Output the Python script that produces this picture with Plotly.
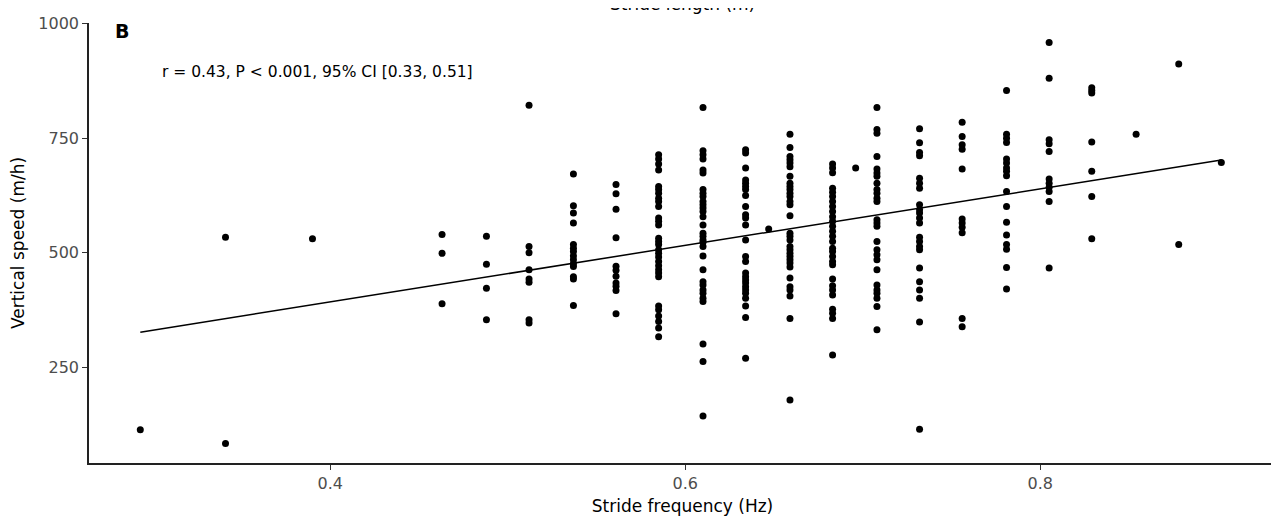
import numpy as np
import plotly.graph_objects as go

# Stride frequency columns (Hz) and vertical speed values (m/h)
freq_cols = [0.293, 0.341, 0.390, 0.463, 0.488, 0.512, 0.537, 0.561, 0.585, 0.610,
             0.634, 0.647, 0.659, 0.683, 0.696, 0.708, 0.732, 0.756, 0.781, 0.805,
             0.829, 0.854, 0.878, 0.902]

speed_0293 = [114]
speed_0341 = [534, 84]
speed_0390 = [531]
speed_0463 = [540, 499, 389]
speed_0488 = [536, 475, 423, 354]
speed_0512 = [822, 514, 500, 463, 443, 436, 354, 347]
speed_0537 = [672, 603, 587, 565, 518, 510, 503, 493, 485, 476, 470, 448, 443, 385]
speed_0561 = [649, 629, 595, 533, 471, 462, 449, 434, 427, 418, 367]
speed_0585 = [714, 705, 694, 681, 645, 638, 630, 619, 612, 601, 576, 569, 561, 532,
              525, 518, 507, 499, 491, 481, 472, 463, 456, 448, 384, 376, 362, 350,
              336, 317]
speed_0610 = [817, 723, 714, 705, 681, 674, 638, 630, 623, 612, 605, 598, 590, 579,
              561, 543, 536, 528, 523, 514, 493, 463, 437, 430, 419, 412, 401, 394,
              301, 263, 144]
speed_0634 = [725, 718, 685, 659, 652, 645, 638, 625, 601, 583, 576, 561, 528, 492,
              481, 456, 448, 441, 434, 426, 419, 412, 401, 384, 359, 270]
speed_0647 = [552]
speed_0659 = [759, 730, 710, 703, 696, 688, 667, 652, 645, 638, 630, 623, 612, 605,
              581, 543, 536, 528, 514, 507, 499, 492, 485, 478, 469, 445, 426, 419,
              406, 357, 179]
speed_0683 = [694, 685, 675, 641, 632, 623, 612, 601, 590, 579, 569, 558, 547, 536,
              525, 510, 503, 492, 481, 474, 443, 428, 419, 408, 377, 368, 357, 277]
speed_0696 = [685]
speed_0708 = [817, 769, 761, 710, 683, 674, 667, 652, 638, 630, 619, 612, 572, 565,
              558, 525, 507, 496, 485, 463, 430, 419, 412, 401, 383, 332]
speed_0732 = [771, 740, 719, 712, 663, 652, 641, 605, 594, 587, 576, 565, 534, 525,
              514, 507, 467, 437, 419, 401, 349, 115]
speed_0756 = [785, 754, 736, 726, 683, 574, 565, 556, 544, 357, 339]
speed_0781 = [854, 759, 750, 741, 705, 696, 685, 678, 668, 634, 601, 567, 539, 518,
              508, 468, 421]
speed_0805 = [959, 881, 747, 738, 721, 661, 652, 643, 634, 612, 467]
speed_0829 = [860, 854, 849, 742, 678, 623, 531]
speed_0854 = [759]
speed_0878 = [912, 518]
speed_0902 = [697]

speed_lists = [speed_0293, speed_0341, speed_0390, speed_0463, speed_0488, speed_0512,
               speed_0537, speed_0561, speed_0585, speed_0610, speed_0634, speed_0647,
               speed_0659, speed_0683, speed_0696, speed_0708, speed_0732, speed_0756,
               speed_0781, speed_0805, speed_0829, speed_0854, speed_0878, speed_0902]

x_vals, y_vals = [], []
for f, ys in zip(freq_cols, speed_lists):
    for v in ys:
        x_vals.append(f)
        y_vals.append(v)
x_arr = np.array(x_vals)
y_arr = np.array(y_vals)

slope, intercept = np.polyfit(x_arr, y_arr, 1)
x_fit = np.array([x_arr.min(), x_arr.max()])
y_fit = slope * x_fit + intercept

x_ticks = [0.4, 0.6, 0.8]
y_ticks = [250, 500, 750, 1000]

font_family = "DejaVu Sans, Liberation Sans, Arial, sans-serif"

fig = go.Figure()
fig.add_trace(go.Scatter(x=x_arr, y=y_arr, mode="markers",
                         marker=dict(color="black", size=7),
                         showlegend=False, hoverinfo="x+y"))
fig.add_trace(go.Scatter(x=x_fit, y=y_fit, mode="lines",
                         line=dict(color="black", width=1.5),
                         showlegend=False, hoverinfo="skip"))

axis_common = dict(showgrid=False, zeroline=False, showline=True,
                   linecolor="#222222", linewidth=1.5, ticks="outside",
                   ticklen=5, tickwidth=1.2, tickcolor="#333333",
                   tickfont=dict(family=font_family, size=16, color="#4d4d4d"),
                   mirror=False, automargin=False)

# the page body adds an 8 px offset, so the figure is sized and placed to compensate
fig.update_layout(
    width=1271, height=522,
    margin=dict(l=81, r=3, t=15, b=67),
    paper_bgcolor="white", plot_bgcolor="white",
    font=dict(family=font_family, color="black"),
    xaxis=dict(range=[0.2641, 0.9328], tickvals=x_ticks,
               ticktext=[f"{t:.1f}" for t in x_ticks],
               title=dict(text="Stride frequency (Hz)", standoff=8,
                          font=dict(family=font_family, size=17, color="black")),
               **axis_common),
    yaxis=dict(range=[41.5, 1001.5], tickvals=y_ticks,
               ticktext=[str(t) for t in y_ticks],
               title=dict(text="Vertical speed (m/h)", standoff=12,
                          font=dict(family=font_family, size=17, color="black")),
               **axis_common),
)

fig.add_annotation(text="<b>B</b>", xref="paper", yref="paper", x=0.028, y=0.982,
                   xanchor="center", yanchor="middle", showarrow=False,
                   font=dict(family=font_family, size=19, color="black"))
fig.add_annotation(text="r = 0.43, P < 0.001, 95% CI [0.33, 0.51]",
                   xref="paper", yref="paper", x=0.0598, y=0.889,
                   xanchor="left", yanchor="middle", showarrow=False,
                   font=dict(family=font_family, size=15.5, color="black"))
fig.add_annotation(text="Stride length (m)", xref="paper", yref="paper",
                   x=0.5, y=1.0, yshift=19, xanchor="center", yanchor="middle",
                   showarrow=False,
                   font=dict(family=font_family, size=17, color="black"))

fig.write_html("out.html")
